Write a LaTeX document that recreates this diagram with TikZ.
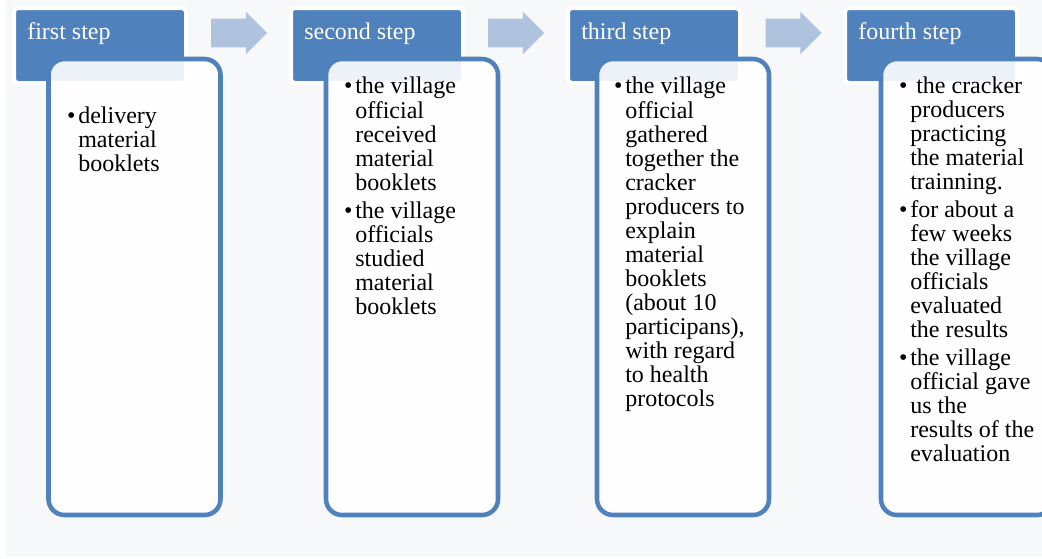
\documentclass[tikz,border=0pt]{standalone}
\usepackage{fontspec}
\setmainfont{Liberation Serif}
\usepackage{tikz}
\usetikzlibrary{positioning, shapes.arrows}
\definecolor{stepblue}{HTML}{4F81BD}
\definecolor{arrowblue}{HTML}{B0C3DE}
\definecolor{pagebg}{HTML}{F7F8FA}
\newcommand{\bul}{\llap{\textbullet\hspace{2pt}}}

\begin{document}
\begin{tikzpicture}[
  x=0.75pt, y=-0.75pt,
  every node/.style={font=\fontsize{18pt}{18pt}\selectfont},
  headbox/.style={
    rectangle, rounded corners=3pt,
    fill=stepblue, draw=white, line width=3pt,
    minimum width=129pt, minimum height=56.25pt,
    inner sep=0pt,
  },
  headtext/.style={text=white, anchor=base west, inner sep=0pt},
  bodybox/.style={
    rectangle, rounded corners=12pt,
    draw=stepblue, line width=3.4pt,
    fill=white, fill opacity=0.9, draw opacity=1,
    minimum width=129pt, minimum height=342pt,
    inner sep=0pt,
  },
  bodytext/.style={anchor=north west, align=left, inner sep=0pt},
  steparrow/.style={
    single arrow, fill=arrowblue,
    minimum height=42pt, minimum width=31.5pt,
    single arrow head extend=5.25pt,
    inner xsep=0pt, inner ysep=10.5pt,
  },
]
\useasboundingbox (0,0) rectangle (1042,558);
\clip (0,0) rectangle (1042,558);
\fill[pagebg] (6,0) rectangle (1042,557);

% step headers
\node[headbox] (hd1) at (100,45.5) {};
\node[headbox] (hd2) at (377,45.5) {};
\node[headbox] (hd3) at (654,45.5) {};
\node[headbox] (hd4) at (931,45.5) {};

\node[headtext] (ht1) at (27,39.5) {first step};
\node[headtext] (ht2) at (304,39.5) {second step};
\node[headtext] (ht3) at (581,39.5) {third step};
\node[headtext] (ht4) at (858,39.5) {fourth step};

% arrows between the headers
\node[steparrow] (arr1) at (232,33) {};
\node[steparrow] (arr2) at (509,33) {};
\node[steparrow] (arr3) at (786.5,33) {};

% detail boxes
\node[bodybox] (bx1) at (134.5,287) {};
\node[bodybox] (bx2) at (412,287) {};
\node[bodybox] (bx3) at (683,287) {};
\node[bodybox] (bx4) at (967,287) {};

\node[bodytext] (tx1) at (78,106.2) {%
  \strut\bul delivery\\material\\booklets};
\node[bodytext] (tx2) at (355,76.2) {%
  \strut\bul the village\\official\\received\\material\\booklets\\[3pt]
  \bul the village\\officials\\studied\\material\\booklets};
\node[bodytext] (tx3) at (625,76.2) {%
  \strut\bul the village\\official\\gathered\\together the\\cracker\\producers to\\explain\\material\\booklets\\(about 10\\participans),\\with regard\\to health\\protocols};
\node[bodytext] (tx4) at (910,76.2) {%
  \strut\bul\ the cracker\\producers\\practicing\\the material\\trainning.\\[3pt]
  \bul for about a\\few weeks\\the village\\officials\\evaluated\\the results\\[3pt]
  \bul the village\\official gave\\us the\\results of the\\evaluation};
\end{tikzpicture}
\end{document}
